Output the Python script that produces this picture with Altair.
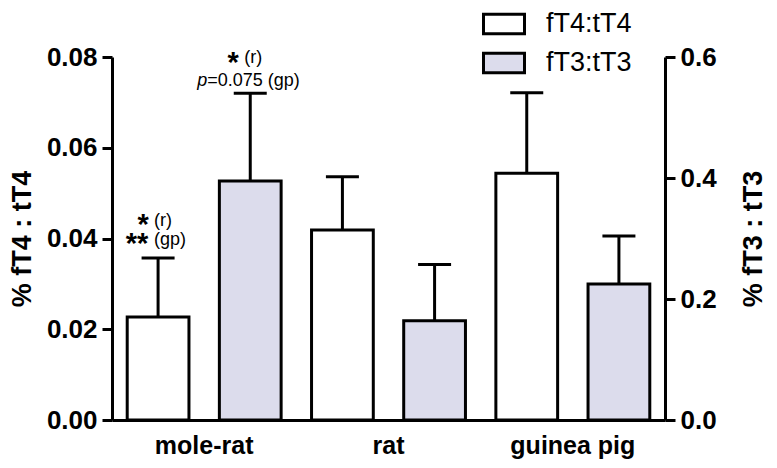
import altair as alt
import pandas as pd

species = ["mole-rat", "rat", "guinea pig"]
series_names = ["fT4:tT4", "fT3:tT3"]

# left axis (% fT4 : tT4)
ft4_mean = [0.0227, 0.0419, 0.0544]
ft4_upper = [0.0357, 0.0536, 0.0721]
# right axis (% fT3 : tT3)
ft3_mean = [0.395, 0.164, 0.225]
ft3_upper = [0.540, 0.257, 0.304]

left_ticks = [0.0, 0.02, 0.04, 0.06, 0.08]
right_ticks = [0.0, 0.2, 0.4, 0.6]

# annotations above the mole-rat bars
ann_species = "mole-rat"
ft4_stars = ["*", "**"]
ft4_notes = ["(r)", "(gp)"]
ft3_stars = ["*"]
ft3_notes = ["(r)", "=0.075 (gp)"]
ft3_italic = "p"

FONT = "Liberation Sans"
FILL3 = "#dcdcec"

ft4_df = pd.DataFrame({"species": species, "series": series_names[0],
                       "mean": ft4_mean, "upper": ft4_upper})
ft3_df = pd.DataFrame({"species": species, "series": series_names[1],
                       "mean": ft3_mean, "upper": ft3_upper})

x_enc = alt.X("species:N", sort=species,
              scale=alt.Scale(paddingInner=0, paddingOuter=0),
              axis=alt.Axis(title=None, labelAngle=0, ticks=False, domain=True,
                            domainWidth=3, domainColor="black",
                            labelFont=FONT, labelFontSize=25, labelFontWeight="bold",
                            labelColor="black", labelPadding=13))
xo_enc = alt.XOffset("series:N", sort=series_names,
                     scale=alt.Scale(domain=series_names, paddingInner=0.33, paddingOuter=0.165))
fill_enc = alt.Fill("series:N", sort=series_names,
                    scale=alt.Scale(domain=series_names, range=["white", FILL3]),
                    legend=alt.Legend(title=None, orient="none", legendX=370, legendY=-55,
                                      symbolType="M-1,-0.48H1V0.48H-1Z", symbolSize=1681,
                                      symbolStrokeColor="black", symbolStrokeWidth=3,
                                      symbolOpacity=1,
                                      labelFont=FONT, labelFontSize=27, labelColor="black",
                                      labelOffset=20, rowPadding=1, padding=0))

def axis_common(**kw):
    return alt.Axis(grid=False, tickSize=10, tickWidth=3, tickColor="black",
                    domainWidth=3, domainColor="black",
                    labelFont=FONT, labelFontSize=26, labelFontWeight="bold",
                    labelColor="black", labelPadding=5,
                    titleFont=FONT, titleFontWeight="bold",
                    titleColor="black", **kw)

y_left = alt.Y("mean:Q", scale=alt.Scale(domain=[0, 0.08], nice=False, zero=True),
               axis=axis_common(title="% fT4 : tT4", values=left_ticks, format=".2f",
                                orient="left", titlePadding=10, titleFontSize=27))
y_right = alt.Y("mean:Q", scale=alt.Scale(domain=[0, 0.6], nice=False, zero=True),
                axis=axis_common(title="% fT3 : tT3", values=right_ticks, format=".1f",
                                 orient="right", titleAngle=270, titleBaseline="top",
                                 titlePadding=24, titleFontSize=27))


def build(df, y_enc):
    base = alt.Chart(df).encode(x=x_enc, xOffset=xo_enc)
    bars = base.mark_bar(stroke="black", strokeWidth=3).encode(y=y_enc, fill=fill_enc)
    rule = base.mark_rule(color="black", strokeWidth=3).encode(
        y=alt.Y("mean:Q"), y2=alt.Y2("upper:Q"))
    cap = base.mark_tick(color="black", thickness=3, size=33, opacity=1).encode(
        y=alt.Y("upper:Q"))
    ann = base.transform_filter(alt.datum.species == ann_species).encode(y=alt.Y("upper:Q"))
    return [bars, rule, cap], ann


l4, a4 = build(ft4_df, y_left)
l3, a3 = build(ft3_df, y_right)

star_style = dict(font=FONT, fontSize=29, fontWeight="bold", color="black")
note_style = dict(font=FONT, fontSize=18, color="black")

a4_layers = [
    a4.mark_text(text=ft4_stars[0], align="center", dx=-15, dy=-24, **star_style),
    a4.mark_text(text=ft4_notes[0], align="left", dx=-4, dy=-32, **note_style),
    a4.mark_text(text=ft4_stars[1], align="center", dx=-21, dy=-5, **star_style),
    a4.mark_text(text=ft4_notes[1], align="left", dx=-4, dy=-13, **note_style),
]
a3_layers = [
    a3.mark_text(text=ft3_stars[0], align="center", dx=-17, dy=-21, **star_style),
    a3.mark_text(text=ft3_notes[0], align="left", dx=-6, dy=-30, **note_style),
    a3.mark_text(text=ft3_italic, align="right", dx=-43, dy=-7, fontStyle="italic", **note_style),
    a3.mark_text(text=ft3_notes[1], align="left", dx=-43, dy=-7, **note_style),
]

left_layer = alt.layer(*l4, *a4_layers)
right_layer = alt.layer(*l3, *a3_layers)

chart = alt.layer(left_layer, right_layer).resolve_scale(
    y="independent"
).properties(
    width=553, height=363,
    autosize=alt.AutoSizeParams(type="none"),
    padding={"left": 104, "top": 49, "right": 104, "bottom": 40},
).configure_view(stroke=None).configure_text(baseline="alphabetic")

chart.save("out.html", embed_options={"renderer": "svg", "actions": False})
